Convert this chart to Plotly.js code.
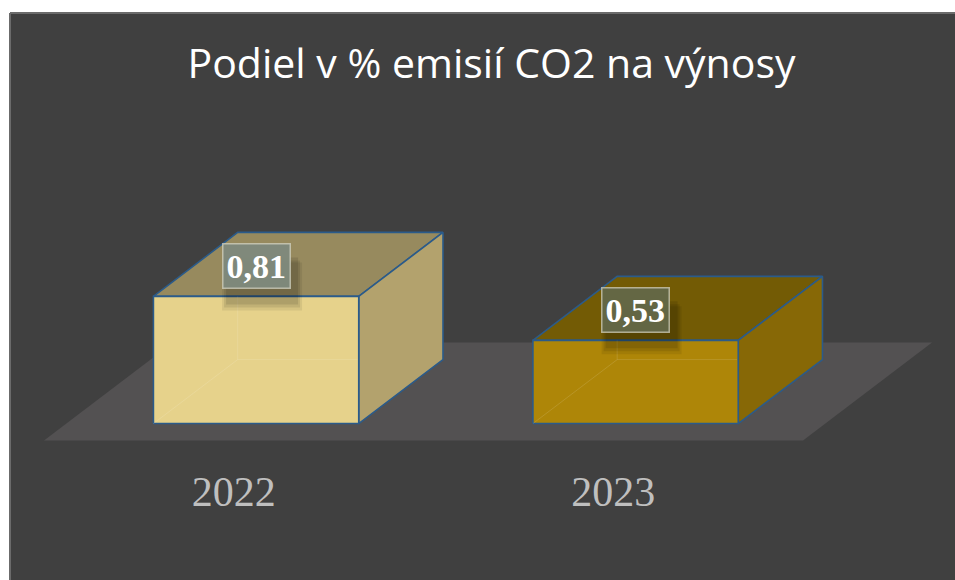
<!DOCTYPE html>
<html>
<head>
<meta charset="utf-8">
<script src="https://cdn.plot.ly/plotly-3.0.1.min.js"></script>
<style>html,body{margin:0;padding:0;background:#fff;}#chart{width:955px;height:580px;}</style>
</head>
<body>
<div id="chart"></div>
<script>
// ---- data ----
const years = ['2022', '2023'];
const values = [0.81, 0.53];
const valueLabels = ['0,81', '0,53'];

// ---- styles ----
const frontColors = ['#e6d28b', '#ae8608'];
const topColors = ['#978a5e', '#735b05'];
const sideColors = ['#b3a26d', '#876806'];
const labelBg = ['rgba(127,137,124,0.96)', 'rgba(100,104,71,0.96)'];
const edgeColor = '#2b5b8a';

// ---- pseudo-3D geometry (in axis units) ----
const DX = 0.34;    // x shift per unit of depth
const DY = 0.624;   // y shift per unit of depth
const d0 = 0.173, d1 = 0.826; // bar front / back depth
const W = 0.541;    // bar width

const traces = [];
// floor
traces.push({
  type: 'scatter', mode: 'lines', fill: 'toself', fillcolor: '#535152',
  line: {width: 0, color: '#535152'}, hoverinfo: 'skip',
  x: [-0.5, 1.5, 1.5 + DX, -0.5 + DX, -0.5],
  y: [0, 0, DY, DY, 0]
});

const annotations = [];
const shapes = [
  {type: 'line', xref: 'paper', yref: 'paper', x0: 0, x1: 1, y0: 1, y1: 1, line: {color: '#6b6b6b', width: 2}},
  {type: 'line', xref: 'paper', yref: 'paper', x0: 0, x1: 0, y0: 0, y1: 1, line: {color: '#6b6b6b', width: 2}}
];
values.forEach((v, i) => {
  const x0 = i + d0 * DX - W / 2, x1 = x0 + W;
  const yb = d0 * DY, yt = yb + v;
  const ox = (d1 - d0) * DX, oy = (d1 - d0) * DY;
  const edge = {color: edgeColor, width: 1.6};
  // top face
  traces.push({type: 'scatter', mode: 'lines', fill: 'toself', fillcolor: topColors[i], line: edge, hoverinfo: 'skip',
    x: [x0, x1, x1 + ox, x0 + ox, x0], y: [yt, yt, yt + oy, yt + oy, yt]});
  // side face
  traces.push({type: 'scatter', mode: 'lines', fill: 'toself', fillcolor: sideColors[i], line: edge, hoverinfo: 'skip',
    x: [x1, x1 + ox, x1 + ox, x1, x1], y: [yb, yb + oy, yt + oy, yt, yb]});
  // front face
  traces.push({type: 'scatter', mode: 'lines', fill: 'toself', fillcolor: frontColors[i], line: edge, hoverinfo: 'skip',
    x: [x0, x1, x1, x0, x0], y: [yb, yb, yt, yt, yb]});
  // faint hidden edges seen through the front face
  traces.push({type: 'scatter', mode: 'lines', line: {color: 'rgba(255,255,255,0.12)', width: 1}, hoverinfo: 'skip',
    x: [x0, x0 + ox, x1 - 0.003, null, x0 + ox, x0 + ox],
    y: [yb, yb + oy, yb + oy, null, yb + oy, yt]});
  // soft shadow under the label box
  const cx = i + d0 * DX;
  [[-34, 46, 2, -14, 0.07], [-32, 44, 4, -11, 0.09], [-30, 42, 7, -8, 0.10]].forEach(s => {
    shapes.push({type: 'rect', xref: 'x', yref: 'y', xsizemode: 'pixel', ysizemode: 'pixel',
      xanchor: cx, yanchor: yt, x0: s[0], x1: s[1], y0: s[3], y1: 46 + s[2] - 14,
      fillcolor: 'rgba(0,0,0,' + s[4] + ')', line: {width: 0}, layer: 'above'});
  });
  annotations.push({x: cx, y: yt, xref: 'x', yref: 'y', showarrow: false,
    yshift: 30, text: '<b>' + valueLabels[i] + '</b>',
    font: {family: 'Liberation Serif', size: 34, color: '#ffffff'},
    bgcolor: labelBg[i], bordercolor: 'rgba(215,215,200,0.7)', borderwidth: 1.5, borderpad: 3});
});

const layout = {
  width: 955, height: 580,
  margin: {l: 10, r: 0, t: 13, b: 0},
  paper_bgcolor: '#ffffff', plot_bgcolor: '#404040',
  showlegend: false,
  title: {text: 'Podiel v % emisií CO2 na výnosy', font: {family: 'Open Sans', size: 41, color: '#ffffff'},
    x: 0.5147, xanchor: 'center', xref: 'container', y: 0.891, yanchor: 'middle', yref: 'container'},
  xaxis: {range: [-0.5896, 1.9005], tickvals: [0, 1], ticktext: years, showgrid: false, zeroline: false,
    showline: false, ticks: '', anchor: 'free', position: 0.206,
    tickfont: {family: 'Liberation Serif', size: 42, color: '#bfbfbf'}, fixedrange: true},
  yaxis: {range: [-0.8885, 2.7229], visible: false, showgrid: false, zeroline: false, fixedrange: true},
  shapes: shapes,
  annotations: annotations
};

Plotly.newPlot('chart', traces, layout, {displayModeBar: false, staticPlot: true});
</script>
</body>
</html>
